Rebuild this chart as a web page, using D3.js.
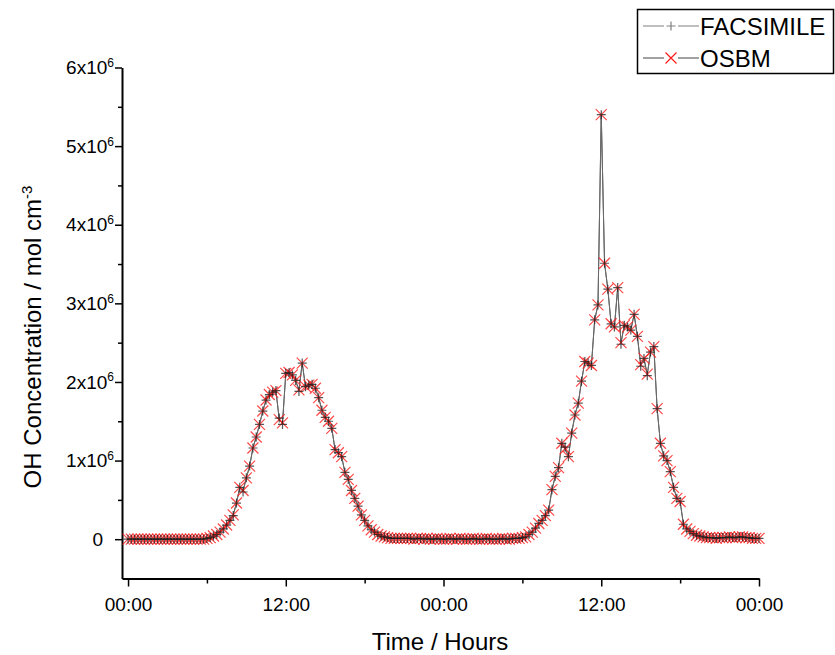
<!DOCTYPE html>
<html>
<head>
<meta charset="utf-8">
<script src="https://cdn.jsdelivr.net/npm/d3@7"></script>
<style>
  body { margin: 0; background: #fff; }
  svg { display: block; font-family: "Liberation Sans", Arial, sans-serif; }
</style>
</head>
<body>
<svg id="chart" width="835" height="655"></svg>
<script>
// OH concentration (units of 10^6 mol cm^-3), sampled every 15 minutes over 48 h
const stepHours = 0.25;
const seriesNames = ["FACSIMILE", "OSBM"];

const facsimile = [
  // 00:00 - 05:45
  0,0,0,0,0,0,0,0,0,0,0,0,0,0,0,0,0,0,0,0,0,0,0,0,
  // 06:00 - 11:45
  0.01,0.02,0.04,0.06,0.09,0.13,0.18,0.24,0.30,0.46,0.66,0.60,0.78,0.93,1.16,1.30,1.46,1.63,1.77,1.84,1.87,1.89,1.54,1.46,
  // 12:00 - 17:45
  2.11,2.12,2.09,2.02,1.88,2.24,1.94,1.96,1.97,1.92,1.80,1.64,1.55,1.50,1.41,1.14,1.10,1.05,0.85,0.76,0.62,0.52,0.42,0.31,
  // 18:00 - 23:45
  0.24,0.17,0.12,0.09,0.06,0.04,0.03,0.02,0.01,0.01,0.01,0.01,0.01,0.01,0.01,0,0.01,0.01,0,0.01,0,0,0.01,0,
  // 00:00 - 05:45
  0,0,0.01,0,0,0.01,0,0,0,0.01,0,0,0,0.01,0,0,0,0,0.01,0,0,0.01,0.01,0.01,
  // 06:00 - 11:45
  0.02,0.03,0.06,0.09,0.14,0.20,0.24,0.30,0.37,0.63,0.80,0.91,1.22,1.17,1.05,1.35,1.58,1.73,2.01,2.26,2.24,2.21,2.79,2.98,
  // 12:00 - 17:45
  5.40,3.51,3.18,2.74,2.70,3.20,2.48,2.72,2.70,2.66,2.86,2.58,2.20,2.30,2.08,2.38,2.45,1.66,1.22,1.06,1.00,0.86,0.66,0.52,
  // 18:00 - 24:00
  0.48,0.19,0.13,0.10,0.07,0.05,0.04,0.03,0.02,0.02,0.02,0.01,0.02,0.02,0.02,0.03,0.02,0.02,0.03,0.03,0.02,0.02,0.01,0.01,0.01
];

const osbm = [
  0,0,0,0,0,0,0,0,0,0,0,0,0,0,0,0,0,0,0,0,0,0,0,0,
  0.01,0.02,0.04,0.06,0.09,0.13,0.18,0.24,0.31,0.46,0.66,0.62,0.78,0.93,1.16,1.30,1.46,1.63,1.77,1.84,1.87,1.89,1.52,1.48,
  2.11,2.12,2.09,2.02,1.90,2.24,1.94,1.96,1.97,1.92,1.80,1.64,1.55,1.50,1.41,1.14,1.10,1.05,0.85,0.76,0.62,0.52,0.42,0.31,
  0.24,0.17,0.12,0.09,0.06,0.04,0.03,0.02,0.01,0.01,0.01,0.01,0.01,0.01,0.01,0,0.01,0.01,0,0.01,0,0,0.01,0,
  0,0,0.01,0,0,0.01,0,0,0,0.01,0,0,0,0.01,0,0,0,0,0.01,0,0,0.01,0.01,0.01,
  0.02,0.03,0.06,0.09,0.14,0.20,0.24,0.30,0.37,0.63,0.80,0.91,1.22,1.15,1.05,1.35,1.58,1.73,2.01,2.26,2.24,2.21,2.79,2.98,
  5.40,3.51,3.18,2.74,2.70,3.20,2.50,2.72,2.70,2.66,2.86,2.58,2.22,2.30,2.10,2.38,2.45,1.66,1.22,1.06,1.00,0.86,0.66,0.52,
  0.48,0.19,0.13,0.10,0.07,0.05,0.04,0.03,0.02,0.02,0.02,0.01,0.02,0.02,0.02,0.03,0.02,0.02,0.03,0.03,0.02,0.02,0.01,0.01,0.01
];

const xTickValues = [0, 12, 24, 36, 48];
const xTickLabels = ["00:00", "12:00", "00:00", "12:00", "00:00"];
const xMinorTicks = [6, 18, 30, 42];
const yTickValues = [0, 1, 2, 3, 4, 5, 6];
const yMinorTicks = [0.5, 1.5, 2.5, 3.5, 4.5, 5.5];
const yExponent = "6";

const svg = d3.select("#chart");

const x = d3.scaleLinear().domain([-0.46, 48]).range([122, 759]);
const y = d3.scaleLinear().domain([-0.5, 6]).range([578.5, 67.5]);

const hours = i => i * stepHours;

// ---- axes ----
const axisColor = "#000";

// x minor ticks
svg.append("g")
  .attr("transform", "translate(0,578.5)")
  .call(d3.axisBottom(x).tickValues(xMinorTicks).tickSize(5).tickFormat(""))
  .call(g => g.select(".domain").remove())
  .call(g => g.selectAll("line").attr("stroke", axisColor).attr("stroke-width", 1.5));

// x major ticks + line
const gx = svg.append("g")
  .attr("transform", "translate(0,578.5)")
  .call(d3.axisBottom(x).tickValues(xTickValues)
    .tickFormat((d, i) => xTickLabels[i]).tickSize(8).tickPadding(11).tickSizeOuter(0));
gx.select(".domain").attr("stroke", axisColor).attr("stroke-width", 2);
gx.selectAll(".tick line").attr("stroke", axisColor).attr("stroke-width", 1.5);
gx.selectAll(".tick text").attr("font-size", 19).attr("fill", "#000")
  .attr("font-family", "Liberation Sans, Arial, sans-serif");

// y minor ticks
svg.append("g")
  .attr("transform", "translate(122,0)")
  .call(d3.axisLeft(y).tickValues(yMinorTicks).tickSize(4).tickFormat(""))
  .call(g => g.select(".domain").remove())
  .call(g => g.selectAll("line").attr("stroke", axisColor).attr("stroke-width", 1.5));

// y major ticks + line
const gy = svg.append("g")
  .attr("transform", "translate(122,0)")
  .call(d3.axisLeft(y).tickValues(yTickValues).tickSize(7).tickPadding(12).tickSizeOuter(0));
gy.select(".domain").attr("stroke", axisColor).attr("stroke-width", 2);
gy.selectAll(".tick line").attr("stroke", axisColor).attr("stroke-width", 1.5);
gy.selectAll(".tick text")
  .attr("font-size", 19).attr("fill", "#000")
  .attr("font-family", "Liberation Sans, Arial, sans-serif")
  .each(function (d) {
    const t = d3.select(this);
    if (d === 0) { t.text("0"); return; }
    t.text(null).attr("x", -8);
    t.append("tspan").text(d + "x10");
    t.append("tspan").attr("dy", "-0.6em").attr("font-size", 12).text(yExponent);
  });

// axis titles
svg.append("text")
  .attr("transform", "translate(41,337) rotate(-90)")
  .attr("text-anchor", "middle")
  .attr("font-size", 24)
  .attr("fill", "#000")
  .call(t => {
    t.append("tspan").text("OH Concentration / mol cm");
    t.append("tspan").attr("dy", "-0.6em").attr("font-size", 15).text("-3");
  });

svg.append("text")
  .attr("x", 440).attr("y", 650)
  .attr("text-anchor", "middle")
  .attr("font-size", 24)
  .attr("fill", "#000")
  .text("Time / Hours");

// ---- series ----
const line = d3.line().x((d, i) => x(hours(i))).y(d => y(d));

const styles = {
  FACSIMILE: { line: "#6e6e6e", marker: "#1e1e1e", symbol: "M-4.5,0H4.5M0,-4.5V4.5", width: 1.2 },
  OSBM: { line: "#2a2a2a", marker: "#ff1a1a", symbol: "M-5.5,-5.5L5.5,5.5M-5.5,5.5L5.5,-5.5", width: 1.2 }
};

const plot = svg.append("g");

plot.append("path").datum(osbm)
  .attr("d", line).attr("fill", "none")
  .attr("stroke", styles.OSBM.line).attr("stroke-width", 0.9);
plot.append("path").datum(facsimile)
  .attr("d", line).attr("fill", "none")
  .attr("stroke", styles.FACSIMILE.line).attr("stroke-width", 0.9);

plot.append("g").selectAll("path").data(osbm).join("path")
  .attr("transform", (d, i) => `translate(${x(hours(i))},${y(d)})`)
  .attr("d", styles.OSBM.symbol)
  .attr("fill", "none").attr("stroke", styles.OSBM.marker)
  .attr("stroke-width", styles.OSBM.width).attr("stroke-opacity", 0.8);

plot.append("g").selectAll("path").data(facsimile).join("path")
  .attr("transform", (d, i) => `translate(${x(hours(i))},${y(d)})`)
  .attr("d", styles.FACSIMILE.symbol)
  .attr("fill", "none").attr("stroke", styles.FACSIMILE.marker)
  .attr("stroke-width", styles.FACSIMILE.width).attr("stroke-opacity", 0.75);

// ---- legend ----
const legend = svg.append("g");
legend.append("rect")
  .attr("x", 637.5).attr("y", 9.5).attr("width", 196).attr("height", 64)
  .attr("fill", "#fff").attr("stroke", "#000").attr("stroke-width", 1.5);

const legendRows = [
  { name: seriesNames[0], cy: 26, lineColor: "#808080", markerColor: "#808080", symbol: styles.FACSIMILE.symbol },
  { name: seriesNames[1], cy: 58, lineColor: "#444", markerColor: "#ff1a1a", symbol: styles.OSBM.symbol }
];
legendRows.forEach(r => {
  legend.append("line").attr("x1", 643).attr("x2", 699).attr("y1", r.cy).attr("y2", r.cy)
    .attr("stroke", r.lineColor).attr("stroke-width", 1.2);
  legend.append("rect").attr("x", 664).attr("y", r.cy - 7).attr("width", 14).attr("height", 14).attr("fill", "#fff");
  legend.append("path").attr("transform", `translate(671,${r.cy})`).attr("d", r.symbol)
    .attr("fill", "none").attr("stroke", r.markerColor).attr("stroke-width", 1.2);
  legend.append("text").attr("x", 700).attr("y", r.cy).attr("dy", "0.36em")
    .attr("font-size", 24).attr("fill", "#000").text(r.name);
});
</script>
</body>
</html>
